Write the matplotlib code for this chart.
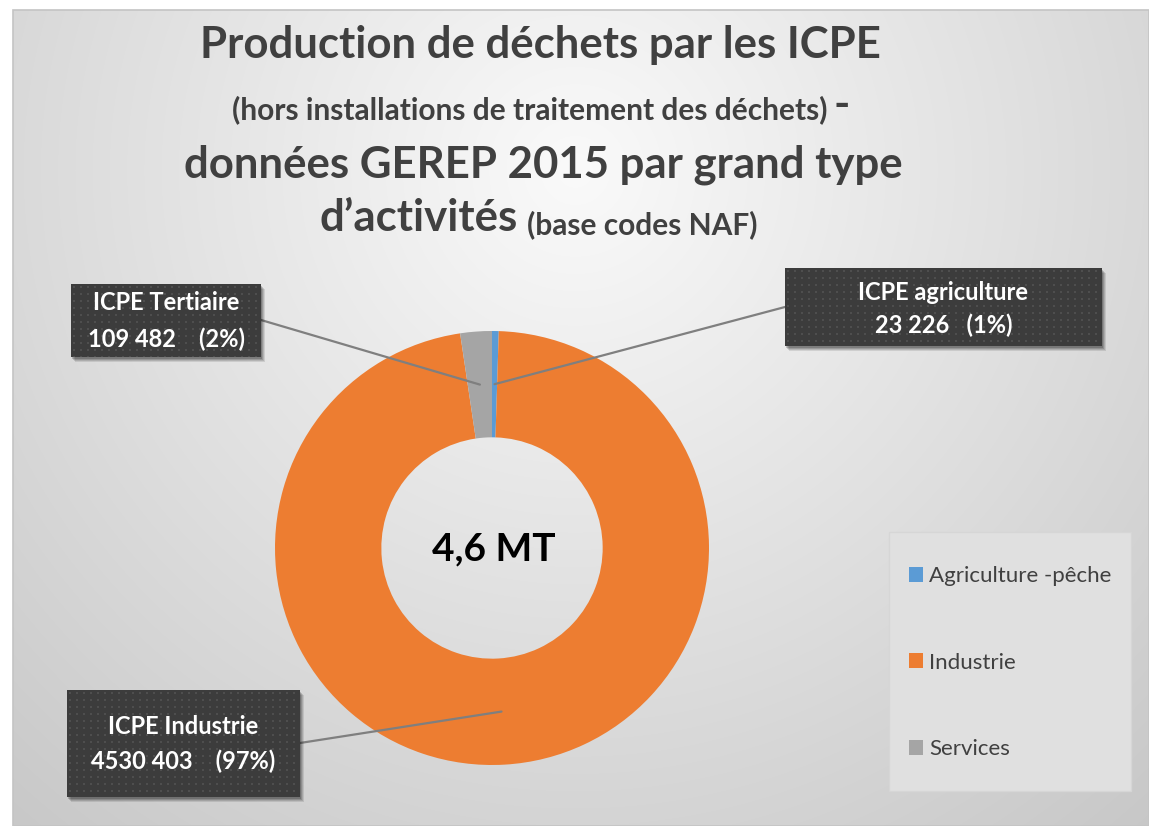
import numpy as np
import matplotlib
matplotlib.use("Agg")
import matplotlib.pyplot as plt
from matplotlib.patches import Rectangle, ConnectionPatch

# ---------------- data ----------------
categories = ["Agriculture -pêche", "Industrie", "Services"]
values = [23226, 4530403, 109482]
colors = ["#5B9BD5", "#ED7D31", "#A5A5A5"]
box_titles = ["ICPE agriculture", "ICPE Industrie", "ICPE Tertiaire"]
box_values = ["23 226   (1%)", "4530 403    (97%)", "109 482    (2%)"]
center_label = "4,6 MT"
title_main = "Production de déchets par les ICPE"
title_sub = "(hors installations de traitement des déchets)"
title_line3 = "données GEREP 2015 par grand type"
title_line4a = "d’activités"
title_line4b = "(base codes NAF)"

FONT = ["Lato", "DejaVu Sans"]
plt.rcParams["font.family"] = FONT

W, H = 1149, 826
fig = plt.figure(figsize=(W / 100, H / 100), dpi=100, facecolor="white")

# ---------------- background gradient ----------------
bg = fig.add_axes([0, 0, 1, 1], zorder=0)
x0b, y0b = 13, 10
yy, xx = np.mgrid[y0b:H, x0b:W]
d = np.hypot(xx - 575, (yy - 170) * 1.0)
g = np.clip(250 - 0.058 * d, 0, 255) / 255.0
bg.imshow(np.dstack([g, g, g]), extent=(x0b, W, H, y0b), aspect="auto",
          interpolation="bilinear")
bg.add_patch(Rectangle((x0b, y0b), W - x0b, H - y0b, fill=False,
                       edgecolor="#c4c4c4", lw=1.2))
bg.set_xlim(0, W); bg.set_ylim(H, 0); bg.axis("off")

# ---------------- donut ----------------
cx, cy, R = 492, 548, 217
ax = fig.add_axes([(cx - R) / W, (H - cy - R) / H, 2 * R / W, 2 * R / H], zorder=1)
ring = 0.49
wedges, _ = ax.pie(values, colors=colors, startangle=90, counterclock=False,
                   radius=1, wedgeprops=dict(width=ring, linewidth=0))
ax.set_xlim(-1, 1); ax.set_ylim(-1, 1)
ax.set_aspect("auto")
ax.axis("off")
ax.patch.set_visible(False)

# ---------------- overlay ----------------
ov = fig.add_axes([0, 0, 1, 1], zorder=2)
ov.patch.set_visible(False)
ov.axis("off")

# boxes: x, y(top), w, h, attach point
boxes = [
    (785, 268, 317, 78, (785, 307)),   # agriculture
    (67, 690, 233, 107, (300, 743)),   # industrie
    (71, 284, 190, 73, (261, 320)),    # tertiaire
]
text_y = [(292, 325), (727, 761), (303, 339)]

rmid = 1 - ring / 2
for w, (bx, by, bw, bh, att) in zip(wedges, boxes):
    th = np.deg2rad((w.theta1 + w.theta2) / 2)
    anchor = (rmid * np.cos(th), rmid * np.sin(th))
    con = ConnectionPatch(xyA=anchor, coordsA=ax.transData, xyB=att,
                          coordsB=ov.transData, color="#7f7f7f", lw=1.6,
                          zorder=1)
    ov.add_artist(con)


def textured(bx, by, bw, bh):
    # shadow
    for k, a in ((5, 0.10), (4, 0.12), (3, 0.15), (2, 0.18)):
        ov.add_patch(Rectangle((bx + k - 1, by + k), bw, bh, facecolor="black",
                               alpha=a, lw=0, zorder=2))
    arr = np.full((bh, bw), 0x3c / 255.0)
    for r in range(2, bh, 7):
        for c in range(2, bw, 7):
            arr[r:r + 2, c:c + 2] = 0x4e / 255.0
    ov.imshow(np.dstack([arr, arr, arr]), extent=(bx, bx + bw, by + bh, by),
              aspect="auto", interpolation="nearest", zorder=3)


for (bx, by, bw, bh, att), t1, t2, (y1, y2) in zip(boxes, box_titles, box_values, text_y):
    textured(bx, by, bw, bh)
    xc = bx + bw / 2
    ov.text(xc, y1, t1, color="white", fontsize=17, fontweight="bold",
            ha="center", va="center", zorder=4)
    ov.text(xc, y2, t2, color="white", fontsize=17, fontweight="bold",
            ha="center", va="center", zorder=4)

# center label
ov.text(cx + 2, cy + 1, center_label, fontsize=28, fontweight="bold",
        color="black", ha="center", va="center", zorder=4)

# titles
tc = "#404040"
ov.text(540, 45, title_main, fontsize=31.5, fontweight="bold", color=tc,
        ha="center", va="center", zorder=4)
ov.text(827, 110, title_sub, fontsize=21.5, fontweight="bold", color=tc,
        ha="right", va="center", zorder=4)
ov.text(833, 105, "-", fontsize=31.5, fontweight="bold", color=tc,
        ha="left", va="center", zorder=4)
ov.text(543, 165, title_line3, fontsize=31.5, fontweight="bold", color=tc,
        ha="center", va="center", zorder=4)
ov.text(518, 218, title_line4a, fontsize=31.5, fontweight="bold", color=tc,
        ha="right", va="center", zorder=4)
ov.text(527, 225, title_line4b, fontsize=21.5, fontweight="bold", color=tc,
        ha="left", va="center", zorder=4)

# legend
ov.add_patch(Rectangle((889, 532), 242, 259, facecolor="#e0e0e0",
                       edgecolor="#d6d6d6", lw=1, zorder=2))
leg = ov.legend(wedges, categories, loc="upper left",
                bbox_to_anchor=(909, 566), bbox_transform=ov.transData,
                frameon=False, fontsize=16, labelcolor="#404040",
                handlelength=0.65, handleheight=0.65, handletextpad=0.25,
                labelspacing=3.0, borderpad=0, borderaxespad=0)
leg.set_zorder(5)

ov.set_xlim(0, W); ov.set_ylim(H, 0)

fig.savefig("out.png", dpi=100, facecolor="white")
